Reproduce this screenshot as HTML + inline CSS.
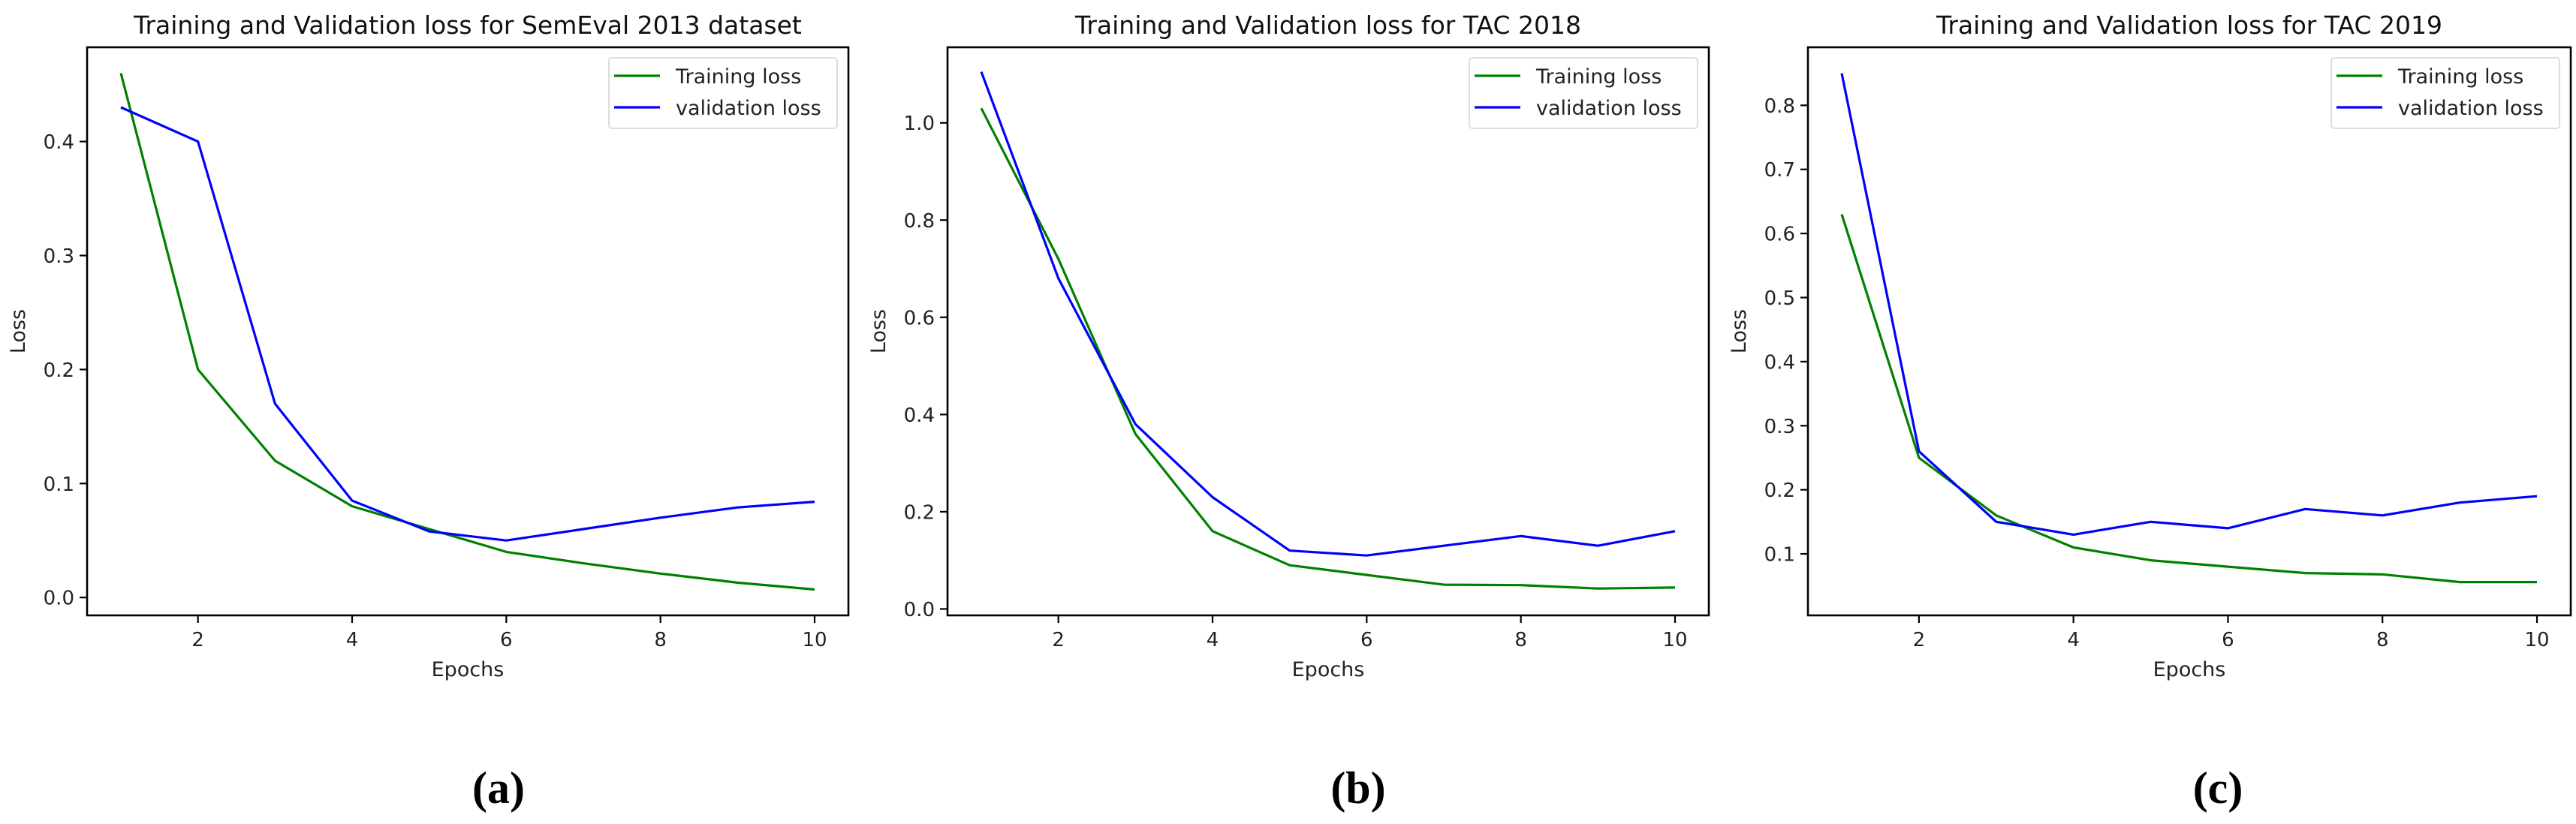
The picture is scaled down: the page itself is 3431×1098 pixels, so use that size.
<!DOCTYPE html>
<html><head><meta charset="utf-8">
<style>
html,body{margin:0;padding:0;background:#fff;}
svg{display:block;font-family:"DejaVu Sans","Liberation Sans",sans-serif;}
</style></head>
<body>
<svg id="fig" width="3431" height="1098" viewBox="0 0 3431 1098" xmlns="http://www.w3.org/2000/svg"></svg>
<script>
const epochs = [1,2,3,4,5,6,7,8,9,10];
const xTicks = [2,4,6,8,10];
const trainA = [0.46,0.2,0.12,0.08,0.06,0.04,0.03,0.021,0.013,0.007];
const valA = [0.43,0.40,0.17,0.085,0.058,0.05,0.06,0.07,0.079,0.084];
const yTicksA = [0.0,0.1,0.2,0.3,0.4];
const trainB = [1.03,0.72,0.36,0.16,0.09,0.07,0.05,0.049,0.042,0.044];
const valB = [1.105,0.68,0.38,0.23,0.12,0.11,0.13,0.15,0.13,0.16];
const yTicksB = [0.0,0.2,0.4,0.6,0.8,1.0];
const trainC = [0.63,0.25,0.16,0.11,0.09,0.08,0.07,0.068,0.056,0.056];
const valC = [0.85,0.26,0.15,0.13,0.15,0.14,0.17,0.16,0.18,0.19];
const yTicksC = [0.1,0.2,0.3,0.4,0.5,0.6,0.7,0.8];
const titles = ["Training and Validation loss for SemEval 2013 dataset","Training and Validation loss for TAC 2018","Training and Validation loss for TAC 2019"];
const panelLabels = ["(a)","(b)","(c)"];

const NS="http://www.w3.org/2000/svg";
const svg=document.getElementById('fig');
function mk(tag,attrs,parent,text){const e=document.createElementNS(NS,tag);for(const k in attrs)e.setAttribute(k,attrs[k]);if(text!==undefined)e.textContent=text;(parent||svg).appendChild(e);return e;}

const panels=[
 {left:116,top:63,w:1014,h:757,vmin:-0.0157,vmax:0.4827,train:trainA,val:valA,ticks:yTicksA,lab:664,id:'a'},
 {left:1262,top:63,w:1014,h:757,vmin:-0.0132,vmax:1.1555,train:trainB,val:valB,ticks:yTicksB,lab:1809,id:'b'},
 {left:2408,top:63,w:1016,h:757,vmin:0.004,vmax:0.8906,train:trainC,val:valC,ticks:yTicksC,lab:2954,id:'c'}
];
panels.forEach((p,i)=>{
  const g=mk('g',{});
  
  
  const x=e=>p.left+45+(e-1)*(p.w-90)/9;
  const y=v=>p.top+p.h-(v-p.vmin)/(p.vmax-p.vmin)*p.h;
  const t=mk('text',{x:p.left+p.w/2,y:45,'text-anchor':'middle','font-size':33,fill:'#111'},g,titles[i]);
  
  
  const mkLine=(arr,col,name)=>{
    const d=arr.map((v,j)=>(j?'L':'M')+x(epochs[j]).toFixed(1)+' '+y(v).toFixed(1)).join(' ');
    const pa=mk('path',{d:d,fill:'none',stroke:col,'stroke-width':3.2,'stroke-linejoin':'round'},g);
    
    
  };
  mkLine(p.train,'#008000','training-loss-line');
  mkLine(p.val,'#0000ff','validation-loss-line');
  const fr=mk('rect',{x:p.left,y:p.top,width:p.w,height:p.h,fill:'none',stroke:'#000','stroke-width':2.6},g);
  
  
  xTicks.forEach(tv=>{
    const xx=x(tv);
    mk('line',{x1:xx,x2:xx,y1:p.top+p.h,y2:p.top+p.h+10,stroke:'#000','stroke-width':2.2},g);
    const tl=mk('text',{x:xx,y:861,'text-anchor':'middle','font-size':26,fill:'#222'},g,String(tv));
    
    
  });
  p.ticks.forEach(tv=>{
    const yy=y(tv);
    mk('line',{x1:p.left-10,x2:p.left,y1:yy,y2:yy,stroke:'#000','stroke-width':2.2},g);
    const tl=mk('text',{x:p.left-17,y:yy+9.5,'text-anchor':'end','font-size':26,fill:'#222'},g,tv.toFixed(1));
    
    
  });
  const xl=mk('text',{x:p.left+p.w/2,y:901,'text-anchor':'middle','font-size':27,fill:'#222'},g,'Epochs');
  
  
  const cy=p.top+p.h/2;
  const yl=mk('text',{x:p.left-83,y:cy,'text-anchor':'middle','font-size':27,fill:'#222',transform:'rotate(-90 '+(p.left-83)+' '+cy+')'},g,'Loss');
  
  
  const lr=p.left+p.w-15, ll=lr-304;
  const lg=mk('g',{},g);
  
  
  mk('rect',{x:ll,y:77,width:304,height:94,rx:4,fill:'#fff',stroke:'#ddd','stroke-width':2},lg);
  mk('line',{x1:ll+7,x2:ll+68,y1:101,y2:101,stroke:'#008000','stroke-width':3.2},lg);
  mk('line',{x1:ll+7,x2:ll+68,y1:143,y2:143,stroke:'#0000ff','stroke-width':3.2},lg);
  const e1=mk('text',{x:ll+89,y:111,'font-size':27,fill:'#222'},lg,'Training loss');
  
  
  const e2=mk('text',{x:ll+89,y:153,'font-size':27,fill:'#222'},lg,'validation loss');
  
  
  const pl=mk('text',{x:p.lab,y:1070,'text-anchor':'middle','font-size':60,'font-weight':'bold','font-family':'"Liberation Serif",serif',fill:'#000'},g,panelLabels[i]);
  
  
});
</script>
</body></html>
